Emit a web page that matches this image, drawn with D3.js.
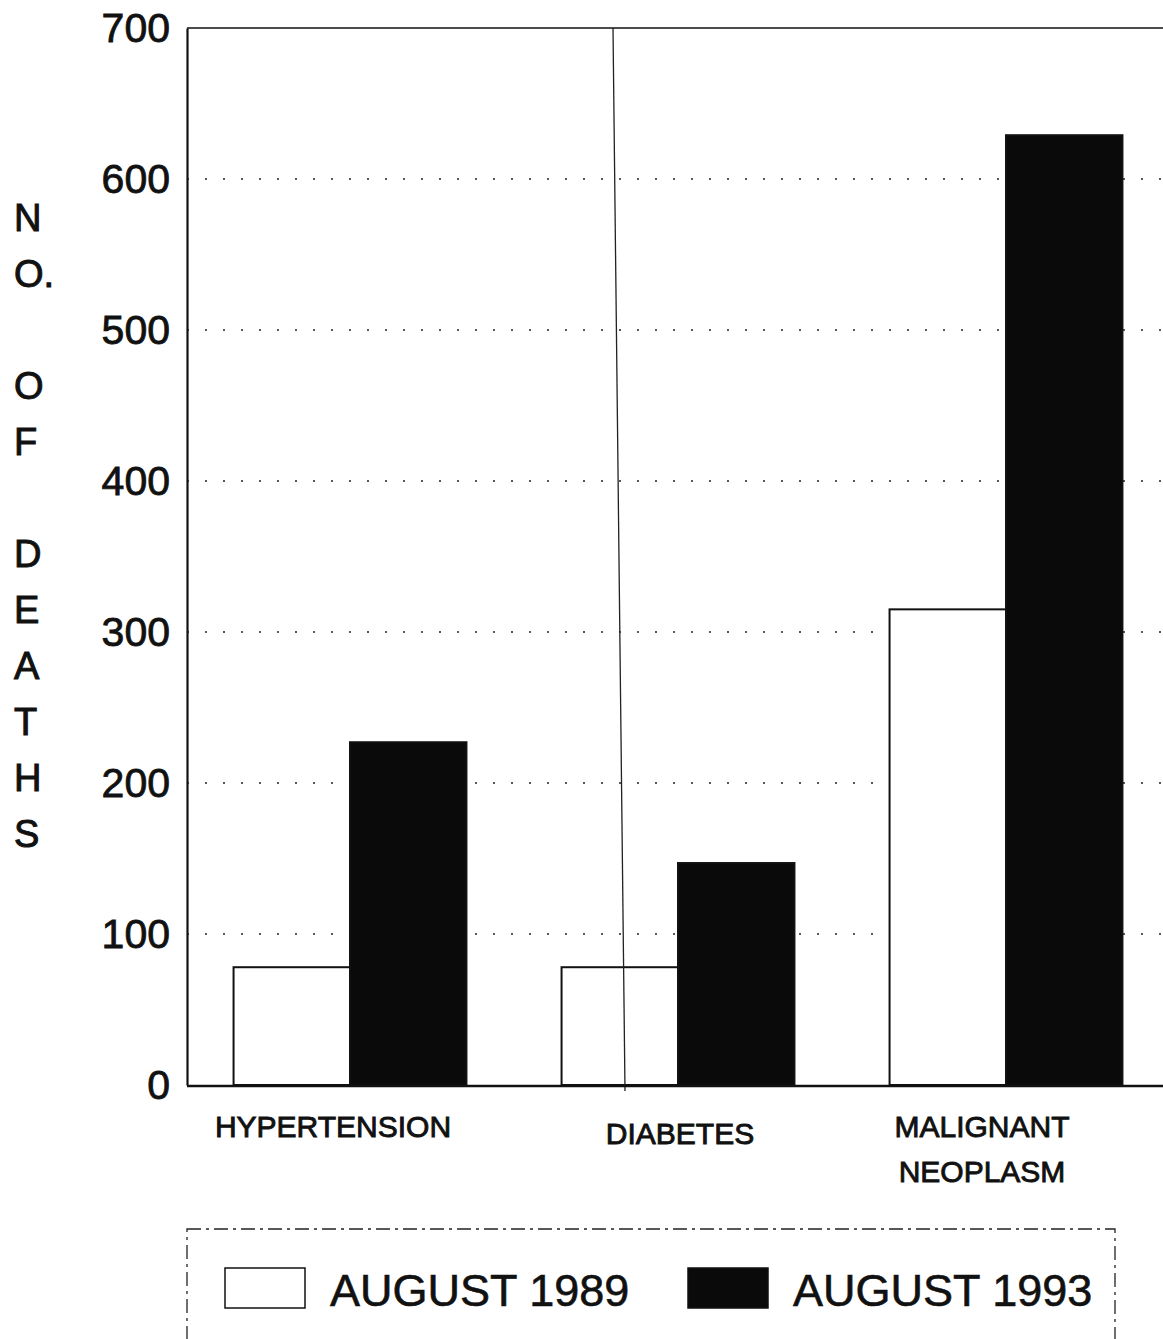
<!DOCTYPE html>
<html>
<head>
<meta charset="utf-8">
<script src="https://cdn.jsdelivr.net/npm/d3@7/dist/d3.min.js"></script>
<style>
  html, body { margin: 0; padding: 0; background: #fff; }
  svg { display: block; font-family: "Liberation Sans", Arial, Helvetica, sans-serif; }
</style>
</head>
<body>
<svg id="chart" width="1163" height="1339"></svg>
<script>
// ---- data ----
const categories = ["HYPERTENSION", "DIABETES", "MALIGNANT NEOPLASM"];
const categoryLines = [["HYPERTENSION"], ["DIABETES"], ["MALIGNANT", "NEOPLASM"]];
const seriesNames = ["AUGUST 1989", "AUGUST 1993"];
const values1989 = [78, 78, 315];
const values1993 = [227, 147, 629];
const yTicks = [0, 100, 200, 300, 400, 500, 600, 700];
const yTitleLines = ["N", "O.", "", "O", "F", "", "D", "E", "A", "T", "H", "S"];

(function () {
// ---- layout ----
const svg = d3.select("#chart");
const pLeft = 187, pRight = 1163, pTop = 28, pBottom = 1085;
const fills = ["#ffffff", "#0a0a0a"];
const ink = "#111";

const y = d3.scaleLinear().domain([0, 700]).range([pBottom, pTop]);
const x = d3.scaleBand().domain(categories).range([186, 1170])
  .paddingInner(0.29).paddingOuter(0.145);
const x1 = d3.scaleBand().domain(seriesNames).range([0, x.bandwidth()]).padding(0);

// gridlines (dotted)
svg.append("g").selectAll("line")
  .data(yTicks.filter(d => d > 0 && d < 700))
  .join("line")
  .attr("x1", pLeft).attr("x2", pRight)
  .attr("y1", d => y(d)).attr("y2", d => y(d))
  .attr("stroke", "#222").attr("stroke-width", 1.6)
  .attr("stroke-dasharray", "2,16");

// top border
svg.append("line").attr("x1", pLeft).attr("x2", pRight)
  .attr("y1", pTop).attr("y2", pTop)
  .attr("stroke", ink).attr("stroke-width", 1.5);

// bars
const rows = categories.map((c, i) => ({ cat: c, vals: [values1989[i], values1993[i]] }));
const groups = svg.append("g").selectAll("g")
  .data(rows).join("g")
  .attr("transform", d => `translate(${x(d.cat)},0)`);

groups.selectAll("rect")
  .data(d => d.vals.map((v, j) => ({ series: seriesNames[j], v, j })))
  .join("rect")
  .attr("x", d => x1(d.series))
  .attr("y", d => y(d.v))
  .attr("width", x1.bandwidth())
  .attr("height", d => y(0) - y(d.v))
  .attr("fill", d => fills[d.j])
  .attr("stroke", ink)
  .attr("stroke-width", 2);

// thin vertical divider line (runs through the diabetes bar)
svg.append("line").attr("x1", 613).attr("x2", 625)
  .attr("y1", pTop).attr("y2", pBottom + 6)
  .attr("stroke", "#222").attr("stroke-width", 1.3);

// y axis
const yAxis = d3.axisLeft(y).tickValues(yTicks).tickSize(0).tickPadding(17);
const gy = svg.append("g").attr("transform", `translate(${pLeft},0)`).call(yAxis);
gy.select(".domain").attr("stroke", ink).attr("stroke-width", 2.2);
gy.selectAll("text").attr("font-size", 41).attr("fill", ink)
  .attr("stroke", ink).attr("stroke-width", 0.8)
  .attr("font-family", "'Liberation Sans', Arial, sans-serif");

// x baseline
svg.append("line").attr("x1", pLeft).attr("x2", pRight)
  .attr("y1", pBottom + 1).attr("y2", pBottom + 1)
  .attr("stroke", ink).attr("stroke-width", 2.5);

// category labels
const labelShift = [-17, 2, -24];
const cl = svg.append("g").selectAll("text")
  .data(categories).join("text")
  .attr("x", (d, i) => x(d) + x.bandwidth() / 2 + labelShift[i])
  .attr("y", 1137)
  .attr("text-anchor", "middle")
  .attr("font-size", 30)
  .attr("fill", ink)
  .attr("stroke", ink).attr("stroke-width", 0.9);
cl.each(function (d, i) {
  const t = d3.select(this);
  const extra = i === 1 ? 7 : 0;
  categoryLines[i].forEach((ln, k) => {
    t.append("tspan").attr("x", x(d) + x.bandwidth() / 2 + labelShift[i])
      .attr("dy", k === 0 ? extra : 45).text(ln);
  });
});

// y title (stacked letters)
svg.append("g").selectAll("text")
  .data(yTitleLines).join("text")
  .attr("x", 14)
  .attr("y", (d, i) => 231 + i * 56)
  .attr("font-size", 38)
  .attr("fill", ink)
  .attr("stroke", ink).attr("stroke-width", 1)
  .text(d => d);

// legend
const lg = svg.append("g");
lg.append("rect").attr("x", 187).attr("y", 1229).attr("width", 928).attr("height", 140)
  .attr("fill", "none").attr("stroke", "#222").attr("stroke-width", 1.3)
  .attr("stroke-dasharray", "14,5,3,5");
const legendX = [225, 688];
seriesNames.forEach((s, j) => {
  lg.append("rect").attr("x", legendX[j]).attr("y", 1268)
    .attr("width", 80).attr("height", 40)
    .attr("fill", fills[j]).attr("stroke", ink).attr("stroke-width", 1.5);
  lg.append("text").attr("x", legendX[j] + 105).attr("y", 1306)
    .attr("font-size", 45).attr("fill", ink)
    .attr("stroke", ink).attr("stroke-width", 0.6).text(s);
});
})();
</script>
</body>
</html>
